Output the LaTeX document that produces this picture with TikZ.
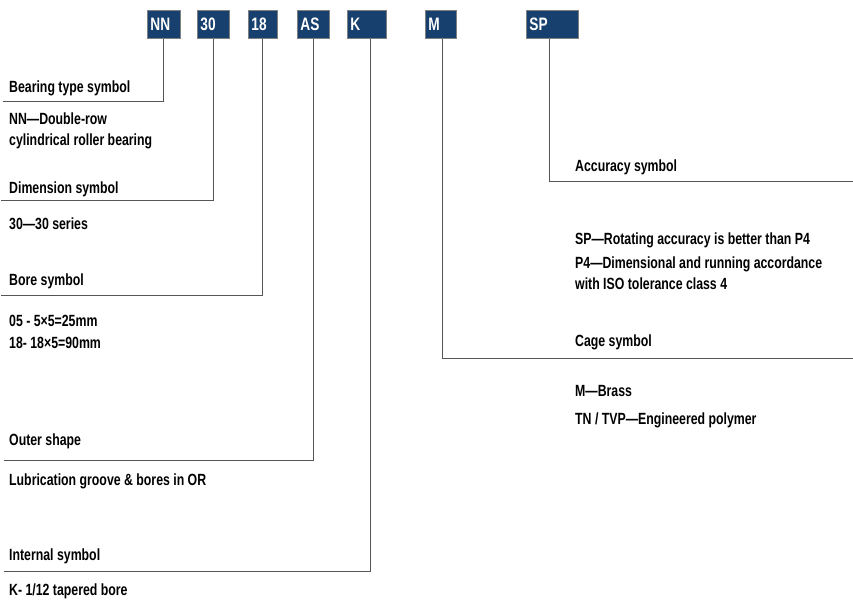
\documentclass[tikz,border=0pt]{standalone}
\usepackage{fontspec}
\setmainfont{Liberation Sans}[FakeStretch=0.76]
\definecolor{codeblue}{HTML}{17406E}
\definecolor{leadgray}{HTML}{555555}
\tikzstyle{lines}=[x=1pt, y=-1pt,
	font=\bfseries\fontsize{16.2}{21}\selectfont]
\tikzstyle{codebox}=[draw=gray, line width=0.8pt, fill=codeblue, text=white,
	anchor=north west, minimum height=28pt, inner xsep=3pt, inner ysep=0pt,
	text height=13pt, text depth=0pt, align=left,
	font=\bfseries\fontsize{18}{18}\selectfont]
\tikzstyle{lead}=[leadgray, line width=1pt]
\tikzstyle{note}=[anchor=base west, inner sep=0pt, align=left]

\begin{document}
\begin{tikzpicture}[lines]
	% Frame
	\useasboundingbox (0,0) rectangle (853,601);

	% % Code boxes
	\foreach \n/\t/\x/\w in {nn/NN/147/27, dim/30/197/26, bore/18/248/23,
		shape/AS/297/26, inner/K/347/33, cage/M/425/25, acc/SP/526/46} {
		\node[codebox, text width=\w pt] (\n) at (\x,10) {\t};
	}

	% % Leader lines
	\foreach \n/\dx/\ex/\ey in {nn/0/3/101.5, dim/0/1/201, bore/0/1/296,
		shape/0/4/460, inner/3.5/4/571, cage/1.5/853/358, acc/-3/853/182} {
		\coordinate (\n End) at (\ex,\ey);
		\draw[lead] ([xshift=\dx pt]\n.south) |- (\n End);
	}

	% % Left side texts (two-line texts sit on their last line)
	\node[note] (nnT) at (9,93) {Bearing type symbol};
	\node[note] (nnD) at (9,146) {NN---Double-row\\cylindrical roller bearing};
	\node[note] (dimT) at (9,194) {Dimension symbol};
	\node[note] (dimD) at (9,230) {30---30 series};
	\node[note] (boreT) at (9,286) {Bore symbol};
	\node[note] (boreD) at (9,348) {05 - 5×5=25mm\\18- 18×5=90mm};
	\node[note] (shapeT) at (9,445) {Outer shape};
	\node[note] (shapeD) at (9,485) {Lubrication groove \& bores in OR};
	\node[note] (innerT) at (9,560) {Internal symbol};
	\node[note] (innerD) at (9,595) {K- 1/12 tapered bore};

	% % Right side texts
	\node[note] (accT) at (575,171.5) {Accuracy symbol};
	\node[note] (accD) at (575,245) {SP---Rotating accuracy is better than P4};
	\node[note] (accE) at (575,290) {P4---Dimensional and running accordance\\with ISO tolerance class 4};
	\node[note] (cageT) at (575,346.5) {Cage symbol};
	\node[note] (cageD) at (575,396.5) {M---Brass};
	\node[note] (cageE) at (575,424) {TN / TVP---Engineered polymer};
\end{tikzpicture}
\end{document}
